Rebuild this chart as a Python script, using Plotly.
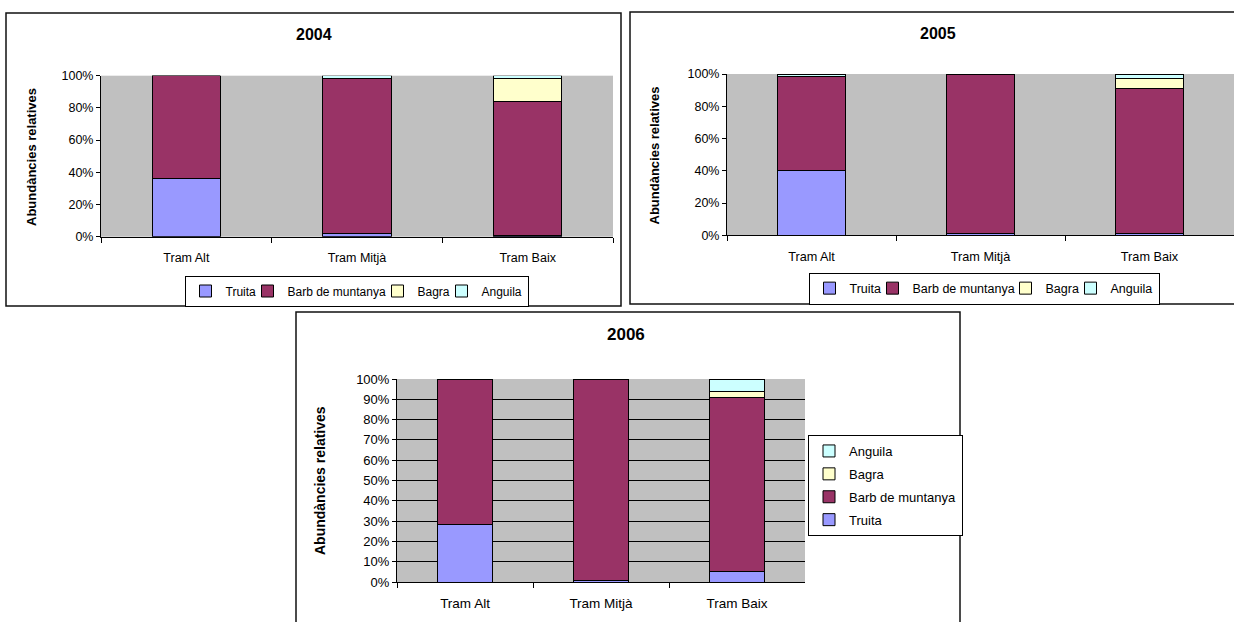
import plotly.graph_objects as go

W, H = 1234, 622

categories = ["Tram Alt", "Tram Mitjà", "Tram Baix"]
species = ["Truita", "Barb de muntanya", "Bagra", "Anguila"]
colors = ["#9999FF", "#993366", "#FFFFCC", "#CCFFFF"]
years = ["2004", "2005", "2006"]

# relative abundances (%) per species, per stretch
truita_2004 = [36.0, 2.0, 0.5]
barb_2004 = [64.0, 96.0, 83.7]
bagra_2004 = [0.0, 0.0, 14.1]
anguila_2004 = [0.0, 2.0, 1.7]

truita_2005 = [40.0, 1.0, 1.0]
barb_2005 = [58.5, 98.4, 90.0]
bagra_2005 = [0.0, 0.0, 6.3]
anguila_2005 = [1.5, 0.6, 2.7]

truita_2006 = [28.2, 0.5, 5.3]
barb_2006 = [71.8, 99.5, 85.5]
bagra_2006 = [0.0, 0.0, 3.1]
anguila_2006 = [0.0, 0.0, 6.1]

data = {
    "2004": [truita_2004, barb_2004, bagra_2004, anguila_2004],
    "2005": [truita_2005, barb_2005, bagra_2005, anguila_2005],
    "2006": [truita_2006, barb_2006, bagra_2006, anguila_2006],
}

FONT = "Liberation Sans, Arial, sans-serif"

# legend entry widths (px) for the compact horizontal legends
hlegend_width = {
    "2004": [17, 85, 19, 41],
    "2005": [18, 88, 20, 43],
}

def px_x(v):
    return v / W

def px_y(v):
    return 1 - v / H

# layout geometry (pixels) and font sizes per panel
panels = {
    "2004": dict(xd=(101, 613), yd=(75.7, 236.7), dtick=20, grid=False,
                 ax="", legend="legend", ytick=12.5, xtick=12.5, leg=12,
                 title=(314, 35, 16), ytitle=(31, 157, 13)),
    "2005": dict(xd=(727, 1234), yd=(74, 235.3), dtick=20, grid=False,
                 ax="2", legend="legend2", ytick=12.5, xtick=12.7, leg=12.5,
                 title=(938, 33, 16), ytitle=(654.5, 156, 13)),
    "2006": dict(xd=(397, 805), yd=(379, 582), dtick=10, grid=True,
                 ax="3", legend="legend3", ytick=13, xtick=13.5, leg=13,
                 title=(626, 334, 17), ytitle=(320, 481, 14)),
}

fig = go.Figure()

for yr in years:
    p = panels[yr]
    for i, sp in enumerate(species):
        kw = {}
        if yr == "2006":
            kw["legendgroup"] = "g2006_" + sp
            kw["legendrank"] = 1000 - i
        else:
            kw["legendwidth"] = hlegend_width[yr][i]
        fig.add_trace(go.Bar(
            x=categories, y=data[yr][i], name=sp,
            marker=dict(color=colors[i], line=dict(color="black", width=1)),
            xaxis="x" + p["ax"], yaxis="y" + p["ax"],
            legend=p["legend"], hoverinfo="skip", **kw))

layout = dict(
    width=W, height=H, autosize=False,
    margin=dict(l=0, r=0, t=0, b=0, pad=0, autoexpand=False),
    paper_bgcolor="white", plot_bgcolor="#C0C0C0",
    barmode="stack", bargap=0.6,
    font=dict(family=FONT, color="black", size=12),
    hovermode=False,
)

for yr in years:
    p = panels[yr]
    xk = "xaxis" + p["ax"]
    yk = "yaxis" + p["ax"]
    layout[xk] = dict(
        domain=[px_x(p["xd"][0]), min(1.0, px_x(p["xd"][1]))],
        anchor="y" + p["ax"], type="category", automargin=False,
        showline=True, linecolor="black", linewidth=1,
        ticks="outside", tickson="boundaries", ticklen=5, tickcolor="black",
        tickfont=dict(size=p["xtick"], family=FONT, color="black"),
        ticklabelstandoff=9, showgrid=False, fixedrange=True,
    )
    layout[yk] = dict(
        domain=[px_y(p["yd"][1]), px_y(p["yd"][0])],
        anchor="x" + p["ax"], range=[0, 100], dtick=p["dtick"],
        automargin=False,
        ticksuffix="%", showline=True, linecolor="black", linewidth=1,
        ticks="outside", ticklen=4, tickcolor="black",
        tickfont=dict(size=p["ytick"], family=FONT, color="black"),
        showgrid=p["grid"], gridcolor="black", gridwidth=1,
        zeroline=False, fixedrange=True,
    )

legend_common = dict(bgcolor="white", bordercolor="black", borderwidth=1,
                     itemwidth=30)
layout["legend"] = dict(orientation="h", x=px_x(356.5), y=px_y(291),
                        xanchor="center", yanchor="middle",
                        traceorder="normal",
                        font=dict(size=panels["2004"]["leg"], family=FONT,
                                  color="black"),
                        **legend_common)
layout["legend2"] = dict(orientation="h", x=px_x(984), y=px_y(288.5),
                         xanchor="center", yanchor="middle",
                         traceorder="normal",
                         font=dict(size=panels["2005"]["leg"], family=FONT,
                                   color="black"),
                         **legend_common)
layout["legend3"] = dict(orientation="v", x=px_x(808), y=px_y(435),
                         xanchor="left", yanchor="top",
                         traceorder="grouped", tracegroupgap=3,
                         font=dict(size=panels["2006"]["leg"], family=FONT,
                                   color="black"),
                         **legend_common)

annotations = []
for yr in years:
    tx, ty, fs = panels[yr]["title"]
    annotations.append(dict(
        text="<b>%s</b>" % yr, x=px_x(tx), y=px_y(ty), xref="paper", yref="paper",
        xanchor="center", yanchor="middle", showarrow=False,
        font=dict(size=fs, family=FONT, color="black")))

for yr in years:
    tx, ty, fs = panels[yr]["ytitle"]
    annotations.append(dict(
        text="<b>Abundàncies relatives</b>", x=px_x(tx), y=px_y(ty),
        xref="paper", yref="paper", xanchor="center", yanchor="middle",
        textangle=-90, showarrow=False,
        font=dict(size=fs, family=FONT, color="black")))
layout["annotations"] = annotations

boxes = [(6, 13, 621, 306), (630, 12, 1250, 304), (296, 312, 960, 640)]
shapes = []
for x0, y0, x1, y1 in boxes:
    shapes.append(dict(type="rect", xref="paper", yref="paper",
                       x0=px_x(x0), x1=px_x(x1), y0=px_y(y1), y1=px_y(y0),
                       line=dict(color="#111111", width=1.5),
                       fillcolor="rgba(0,0,0,0)", layer="above"))
layout["shapes"] = shapes

fig.update_layout(**layout)
fig.write_html("out.html", config={"displayModeBar": False})
